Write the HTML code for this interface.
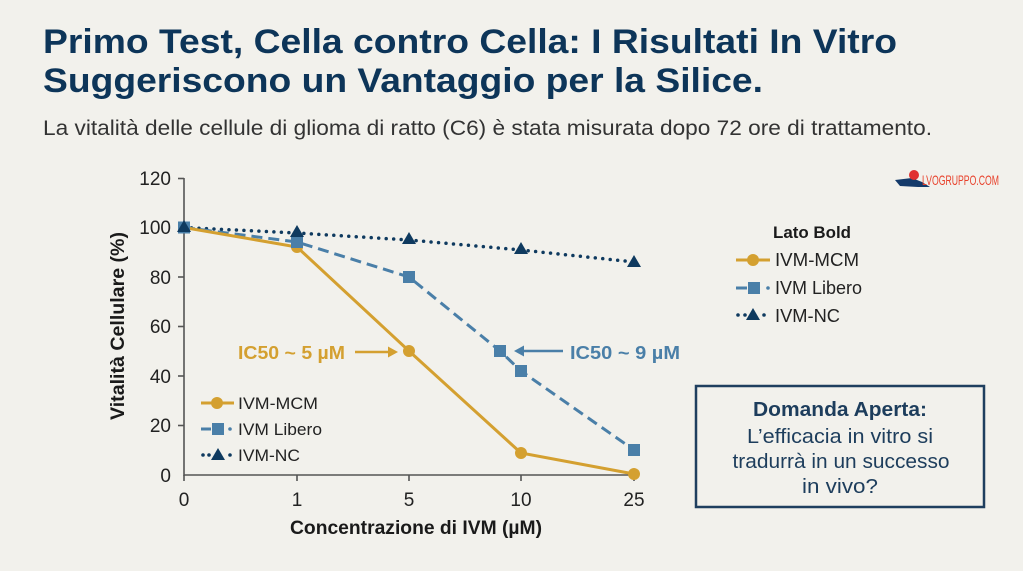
<!DOCTYPE html>
<html><head><meta charset="utf-8">
<style>
html,body{margin:0;padding:0;background:#f2f1ec;}
svg{display:block;}
text{font-family:"Liberation Sans",sans-serif;}
</style></head>
<body>
<svg width="1023" height="571" viewBox="0 0 1023 571" xmlns="http://www.w3.org/2000/svg">
<rect width="1023" height="571" fill="#f2f1ec"/>
<!-- Title -->
<text x="43" y="53" font-size="34" font-weight="bold" fill="#0d3559" textLength="854" lengthAdjust="spacingAndGlyphs">Primo Test, Cella contro Cella: I Risultati In Vitro</text>
<text x="43" y="92" font-size="34" font-weight="bold" fill="#0d3559" textLength="720" lengthAdjust="spacingAndGlyphs">Suggeriscono un Vantaggio per la Silice.</text>
<text x="43" y="135" font-size="21" fill="#333333" textLength="889" lengthAdjust="spacingAndGlyphs">La vitalità delle cellule di glioma di ratto (C6) è stata misurata dopo 72 ore di trattamento.</text>

<!-- watermark -->
<path d="M895 180 L912 178 L922 182 L930 187 L918 187 L900 186 Z" fill="#143a6a"/>
<circle cx="914" cy="175" r="5" fill="#e03030"/>
<text x="922" y="185" font-size="14" fill="#e8402a" textLength="77" lengthAdjust="spacingAndGlyphs">LVOGRUPPO.COM</text>

<!-- axes -->
<g stroke="#555" stroke-width="1.6" fill="none">
<line x1="184" y1="178" x2="184" y2="476"/>
<line x1="184" y1="475" x2="636" y2="475"/>
<line x1="178" y1="178.5" x2="184" y2="178.5"/>
<line x1="178" y1="227.5" x2="184" y2="227.5"/>
<line x1="178" y1="277" x2="184" y2="277"/>
<line x1="178" y1="326.5" x2="184" y2="326.5"/>
<line x1="178" y1="376" x2="184" y2="376"/>
<line x1="178" y1="425.5" x2="184" y2="425.5"/>
<line x1="184" y1="475" x2="184" y2="481"/>
<line x1="297" y1="475" x2="297" y2="481"/>
<line x1="409" y1="475" x2="409" y2="481"/>
<line x1="521" y1="475" x2="521" y2="481"/>
<line x1="634" y1="475" x2="634" y2="481"/>
</g>
<g font-size="19" fill="#222" text-anchor="end">
<text x="171" y="185">120</text>
<text x="171" y="234">100</text>
<text x="171" y="284">80</text>
<text x="171" y="333">60</text>
<text x="171" y="383">40</text>
<text x="171" y="432">20</text>
<text x="171" y="482">0</text>
</g>
<g font-size="19" fill="#222" text-anchor="middle">
<text x="184" y="506">0</text>
<text x="297" y="506">1</text>
<text x="409" y="506">5</text>
<text x="521" y="506">10</text>
<text x="634" y="506">25</text>
</g>
<text x="416" y="534" font-size="19" font-weight="bold" fill="#1a1a1a" text-anchor="middle" textLength="252" lengthAdjust="spacingAndGlyphs">Concentrazione di IVM (µM)</text>
<text transform="translate(124,326) rotate(-90)" font-size="19" font-weight="bold" fill="#1a1a1a" text-anchor="middle" textLength="188" lengthAdjust="spacingAndGlyphs">Vitalità Cellulare (%)</text>

<!-- series lines -->
<polyline points="184,227.5 297,233 409,240 521,250 634,262" fill="none" stroke="#0f3a5f" stroke-width="3.5" stroke-linecap="round" stroke-dasharray="0 7.5"/>
<polyline points="184,227.5 297,242 409,277 500,351 521,371 634,450" fill="none" stroke="#4a7fa8" stroke-width="3" stroke-dasharray="11 6"/>
<polyline points="184,227.5 297,247 409,351 521,453 634,474" fill="none" stroke="#d4a030" stroke-width="3"/>

<!-- markers -->
<g fill="#d4a030">
<circle cx="184" cy="227.5" r="6"/><circle cx="297" cy="247" r="6"/><circle cx="409" cy="351" r="6"/><circle cx="521" cy="453" r="6"/><circle cx="634" cy="474" r="6"/>
</g>
<g fill="#4a7fa8">
<rect x="178" y="221.5" width="12" height="12"/><rect x="291" y="236" width="12" height="12"/><rect x="403" y="271" width="12" height="12"/><rect x="494" y="345" width="12" height="12"/><rect x="515" y="365" width="12" height="12"/><rect x="628" y="444" width="12" height="12"/>
</g>
<g fill="#0f3a5f">
<path d="M184 220 L191 232 L177 232 Z"/><path d="M297 225 L304 237 L290 237 Z"/><path d="M409 232 L416 244 L402 244 Z"/><path d="M521 242 L528 254 L514 254 Z"/><path d="M634 255 L641 267 L627 267 Z"/>
</g>

<!-- annotations -->
<text x="238" y="359" font-size="18" font-weight="bold" fill="#d4a030" textLength="107" lengthAdjust="spacingAndGlyphs">IC50 ~ 5 µM</text>
<line x1="355" y1="352" x2="390" y2="352" stroke="#d4a030" stroke-width="2.5"/>
<path d="M398 352 L388 346.5 L388 357.5 Z" fill="#d4a030"/>
<text x="570" y="359" font-size="18" font-weight="bold" fill="#4a7fa8" textLength="110" lengthAdjust="spacingAndGlyphs">IC50 ~ 9 µM</text>
<line x1="520" y1="351" x2="563" y2="351" stroke="#4a7fa8" stroke-width="2.5"/>
<path d="M514 351 L524 345.5 L524 356.5 Z" fill="#4a7fa8"/>

<!-- inner legend -->
<line x1="201" y1="403" x2="234" y2="403" stroke="#d4a030" stroke-width="3"/>
<circle cx="217" cy="403" r="6" fill="#d4a030"/>
<text x="238" y="409" font-size="17" fill="#222" textLength="80" lengthAdjust="spacingAndGlyphs">IVM-MCM</text>
<line x1="201" y1="429" x2="211" y2="429" stroke="#4a7fa8" stroke-width="3"/>
<rect x="212" y="423" width="12" height="12" fill="#4a7fa8"/>
<circle cx="230" cy="429" r="1.8" fill="#4a7fa8"/>
<text x="238" y="435" font-size="17" fill="#222" textLength="84" lengthAdjust="spacingAndGlyphs">IVM Libero</text>
<circle cx="203" cy="455" r="1.8" fill="#0f3a5f"/><circle cx="209" cy="455" r="1.8" fill="#0f3a5f"/>
<path d="M218 448 L225 460 L211 460 Z" fill="#0f3a5f"/>
<circle cx="230" cy="455" r="1.8" fill="#0f3a5f"/>
<text x="238" y="461" font-size="17" fill="#222" textLength="62" lengthAdjust="spacingAndGlyphs">IVM-NC</text>

<!-- right legend -->
<text x="773" y="238" font-size="17" font-weight="bold" fill="#1a1a1a" textLength="78" lengthAdjust="spacingAndGlyphs">Lato Bold</text>
<line x1="736" y1="260" x2="770" y2="260" stroke="#d4a030" stroke-width="3"/>
<circle cx="753" cy="260" r="6" fill="#d4a030"/>
<text x="775" y="266" font-size="18" fill="#222" textLength="84" lengthAdjust="spacingAndGlyphs">IVM-MCM</text>
<line x1="736" y1="288" x2="747" y2="288" stroke="#4a7fa8" stroke-width="3"/>
<rect x="748" y="282" width="12" height="12" fill="#4a7fa8"/>
<circle cx="768" cy="288" r="1.8" fill="#4a7fa8"/>
<text x="775" y="294" font-size="18" fill="#222" textLength="87" lengthAdjust="spacingAndGlyphs">IVM Libero</text>
<circle cx="738" cy="315" r="1.8" fill="#0f3a5f"/><circle cx="745" cy="315" r="1.8" fill="#0f3a5f"/>
<path d="M753 308 L760 320 L746 320 Z" fill="#0f3a5f"/>
<circle cx="764" cy="315" r="1.8" fill="#0f3a5f"/>
<text x="775" y="322" font-size="18" fill="#222" textLength="65" lengthAdjust="spacingAndGlyphs">IVM-NC</text>

<!-- box -->
<rect x="696" y="386" width="288" height="121" fill="none" stroke="#1f3f5f" stroke-width="2.5"/>
<g text-anchor="middle" font-size="20.5" fill="#1d3d5c">
<text x="840" y="416" font-weight="bold" textLength="174" lengthAdjust="spacingAndGlyphs">Domanda Aperta:</text>
<text x="840" y="443" textLength="186" lengthAdjust="spacingAndGlyphs">L’efficacia in vitro si</text>
<text x="841" y="468" textLength="217" lengthAdjust="spacingAndGlyphs">tradurrà in un successo</text>
<text x="840" y="493" textLength="76" lengthAdjust="spacingAndGlyphs">in vivo?</text>
</g>
</svg>
</body></html>
